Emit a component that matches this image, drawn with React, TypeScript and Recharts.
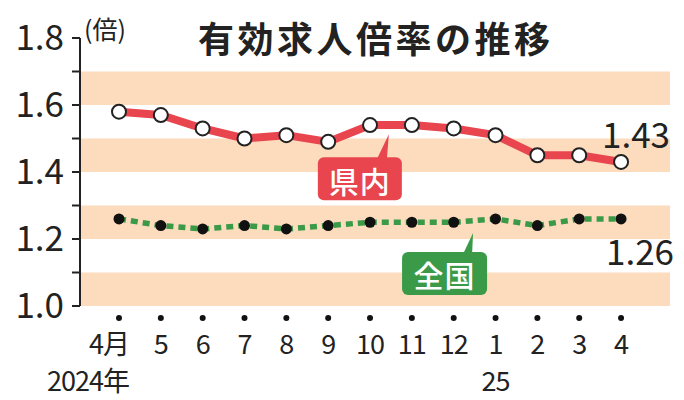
import React from 'react';
import {
  ComposedChart, Line, XAxis, YAxis, ReferenceArea, ReferenceDot,
} from 'recharts';

const months = ['4月', '5', '6', '7', '8', '9', '10', '11', '12', '1', '2', '3', '4'];
const years = ['2024年', '', '', '', '', '', '', '', '', '25', '', '', ''];
const prefValues = [1.58, 1.57, 1.53, 1.5, 1.51, 1.49, 1.54, 1.54, 1.53, 1.51, 1.45, 1.45, 1.43];
const nationValues = [1.26, 1.24, 1.23, 1.24, 1.23, 1.24, 1.25, 1.25, 1.25, 1.26, 1.24, 1.26, 1.26];
const yTicks = [1.0, 1.1, 1.2, 1.3, 1.4, 1.5, 1.6, 1.7, 1.8];
const bands = [[1.0, 1.1], [1.2, 1.3], [1.4, 1.5], [1.6, 1.7]];

const data = months.map((m, i) => ({ idx: i, pref: prefValues[i], nation: nationValues[i] }));

const FONT = '"Noto Sans CJK JP", "Noto Sans", sans-serif';
const RED = '#e8454f';
const GREEN = '#3a9a48';

const MonthTick = (props: any) => {
  const { x, y, payload } = props;
  const i = payload.index ?? payload.value;
  const first = i === 0;
  return (
    <g>
      <circle cx={x} cy={y + 12} r={3} fill="#111" />
      <text
        x={first ? x + 10 : x}
        y={y + 48}
        textAnchor={first ? 'end' : 'middle'}
        fontSize={27}
        fill="#222"
        fontFamily={FONT}
        letterSpacing={-1}
      >
        {months[i]}
      </text>
      {years[i] ? (
        <text
          x={first ? x + 10 : x}
          y={y + 85}
          textAnchor={first ? 'end' : 'middle'}
          fontSize={27}
          fill="#222"
          fontFamily={FONT}
          letterSpacing={-1}
        >
          {years[i]}
        </text>
      ) : null}
    </g>
  );
};

const lastLabel = (dx: number, dy: number, values: number[]) => (props: any) => {
  const { x, y, index } = props;
  if (index !== values.length - 1) return null;
  return (
    <text
      x={x + dx}
      y={y + dy}
      textAnchor="middle"
      dominantBaseline="central"
      fontSize={35}
      fill="#222"
      fontFamily={FONT}
    >
      {values[index].toFixed(2)}
    </text>
  );
};

const Callout = (label: string, color: string, box: number[], tri: number[]) => (props: any) => {
  const { cx, cy } = props;
  const [l, r, t, b] = box;
  return (
    <g>
      <polygon
        points={`${cx},${cy} ${cx + tri[0]},${cy + t + 2} ${cx + tri[1]},${cy + t + 2}`}
        fill={color}
      />
      <rect x={cx + l} y={cy + t} width={r - l} height={b - t} rx={6} fill={color} />
      <text
        x={cx + (l + r) / 2}
        y={cy + (t + b) / 2 + 1}
        textAnchor="middle"
        dominantBaseline="central"
        fontSize={30}
        fill="#fff"
        fontWeight={500}
        fontFamily={FONT}
        letterSpacing={1}
      >
        {label}
      </text>
    </g>
  );
};

const App: React.FC = () => {
  return (
    <div style={{ position: 'absolute', left: 0, top: 0, width: 684, height: 400, background: '#fff' }}>
      <ComposedChart
        width={684}
        height={400}
        data={data}
        margin={{ top: 38, right: 14, left: 10, bottom: 0 }}
        style={{ fontFamily: FONT }}
      >
        {bands.map(([a, b], i) => (
          <ReferenceArea key={`band-${i}`} y1={a} y2={b} fill="#fcdcbd" fillOpacity={1} stroke="none" />
        ))}
        <XAxis
          dataKey="idx"
          type="number"
          domain={[-0.932, 13.17]}
          ticks={months.map((_, i) => i)}
          allowDataOverflow
          axisLine={false}
          tickLine={false}
          tickSize={0}
          tickMargin={0}
          height={94}
          interval={0}
          tick={<MonthTick />}
        />
        <YAxis
          type="number"
          domain={[1.0, 1.8]}
          ticks={yTicks}
          width={70}
          interval={0}
          tickSize={8}
          tickMargin={8}
          axisLine={{ stroke: '#222', strokeWidth: 2 }}
          tickLine={{ stroke: '#222', strokeWidth: 2 }}
          tick={{ fontSize: 35, fill: '#222', fontFamily: FONT }}
          tickFormatter={(v: number) => (Math.round(v * 10) % 2 === 0 ? v.toFixed(1) : '')}
        />
        <Line
          dataKey="nation"
          stroke={GREEN}
          strokeWidth={5.5}
          strokeDasharray="7 5"
          dot={{ r: 5.5, fill: '#111', stroke: 'none' }}
          isAnimationActive={false}
          label={lastLabel(19, 31, nationValues)}
        />
        <Line
          dataKey="pref"
          stroke={RED}
          strokeWidth={8}
          strokeLinejoin="round"
          dot={{ r: 7, fill: '#fff', stroke: '#222', strokeWidth: 2 }}
          isAnimationActive={false}
          label={lastLabel(15, -29, prefValues)}
        />
        <ReferenceDot
          x={6.45}
          y={1.513}
          r={0}
          shape={Callout('県内', RED, [-71, 13, 23, 66], [-12, -2])}
        />
        <ReferenceDot
          x={8.463}
          y={1.218}
          r={0}
          shape={Callout('全国', GREEN, [-71, 14, 19, 62], [-10, -1])}
        />
      </ComposedChart>
      <div
        style={{
          position: 'absolute', left: 84, top: 12, fontSize: 25, lineHeight: '32px',
          fontFamily: FONT, color: '#222', whiteSpace: 'nowrap',
        }}
      >
        (倍)
      </div>
      <div
        style={{
          position: 'absolute', left: 198, top: 16, fontSize: 36, lineHeight: '42px',
          fontFamily: FONT, fontWeight: 700, color: '#222', letterSpacing: 3.5, whiteSpace: 'nowrap',
        }}
      >
        有効求人倍率の推移
      </div>
    </div>
  );
};

export default App;
